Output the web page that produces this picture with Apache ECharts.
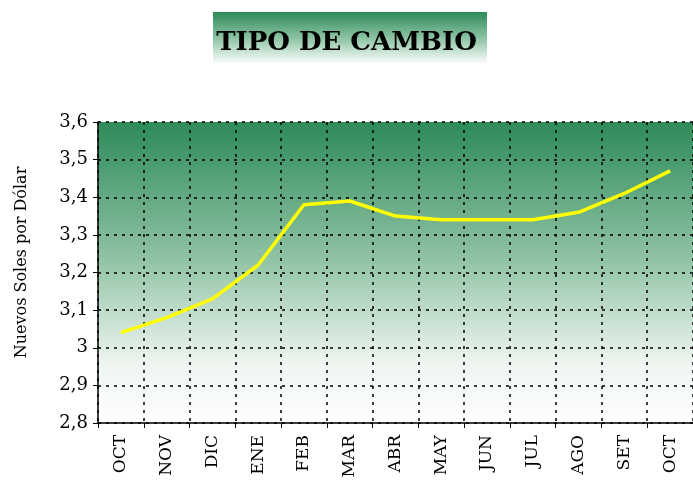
<!DOCTYPE html>
<html>
<head>
<meta charset="utf-8">
<title>Tipo de cambio</title>
<script src="https://cdn.jsdelivr.net/npm/echarts@6/dist/echarts.min.js"></script>
<style>
html,body{margin:0;padding:0;background:#fff;}
#chart{width:693px;height:485px;}
</style>
</head>
<body>
<div id="chart"></div>
<script>
// meses y tipo de cambio (soles por dolar)
var meses = ['OCT','NOV','DIC','ENE','FEB','MAR','ABR','MAY','JUN','JUL','AGO','SET','OCT'];
var tipoCambio = [3.04, 3.08, 3.13, 3.22, 3.38, 3.39, 3.35, 3.34, 3.34, 3.34, 3.36, 3.41, 3.47];
var yMin = 2.8, yMax = 3.6, yPaso = 0.1;

var myChart = echarts.init(document.getElementById('chart'));
var fuente = '"DejaVu Serif", "Liberation Serif", serif';

var option = {
    animation: false,
    backgroundColor: '#fff',
    title: {
        text: 'TIPO DE CAMBIO',
        left: 'center',
        top: 25,
        textStyle: { fontFamily: fuente, fontSize: 26, fontWeight: 'bold', color: '#000' }
    },
    graphic: [{
        type: 'rect',
        z: -1,
        shape: { x: 213, y: 12, width: 274, height: 52 },
        style: {
            fill: new echarts.graphic.LinearGradient(0, 0, 0, 1, [
                { offset: 0, color: '#2e8b5a' },
                { offset: 0.5, color: '#8cc3a2' },
                { offset: 1, color: '#ffffff' }
            ])
        }
    }],
    grid: {
        left: 98, right: -7, top: 122, bottom: 62,
        show: true,
        borderWidth: 0,
        backgroundColor: new echarts.graphic.LinearGradient(0, 0, 0, 1, [
            { offset: 0, color: '#2e8b5a' },
            { offset: 0.45, color: '#8fc2a3' },
            { offset: 0.8, color: '#eef5f0' },
            { offset: 1, color: '#ffffff' }
        ])
    },
    xAxis: {
        type: 'category',
        data: meses,
        boundaryGap: true,
        axisLine: { lineStyle: { color: '#000', width: 1.5 } },
        axisTick: { show: true, interval: 0, length: 5, lineStyle: { color: '#000' } },
        axisLabel: { interval: 0, rotate: 90, fontFamily: fuente, fontSize: 17, color: '#000', margin: 12 },
        splitLine: { show: true, interval: 0, lineStyle: { color: '#000', type: [3, 5], width: 1.5 } }
    },
    yAxis: {
        type: 'value',
        min: yMin, max: yMax, interval: yPaso,
        name: 'Nuevos Soles por Dólar',
        nameLocation: 'middle',
        nameRotate: 90,
        nameGap: 68,
        nameTextStyle: { fontFamily: fuente, fontSize: 16, color: '#000', padding: [0, 0, 0, 20] },
        axisLine: { show: true, lineStyle: { color: '#000', width: 1.5 } },
        axisTick: { show: true, length: 5, lineStyle: { color: '#000' } },
        axisLabel: {
            fontFamily: fuente, fontSize: 18, color: '#000', margin: 10,
            formatter: function (v) { return String(Math.round(v * 10) / 10).replace('.', ','); }
        },
        splitLine: { show: true, lineStyle: { color: '#000', type: [3, 5], width: 1.5 } }
    },
    series: [{
        type: 'line',
        data: tipoCambio,
        symbol: 'none',
        lineStyle: { color: '#ffff00', width: 3.5 }
    }]
};
myChart.setOption(option);
</script>
</body>
</html>
